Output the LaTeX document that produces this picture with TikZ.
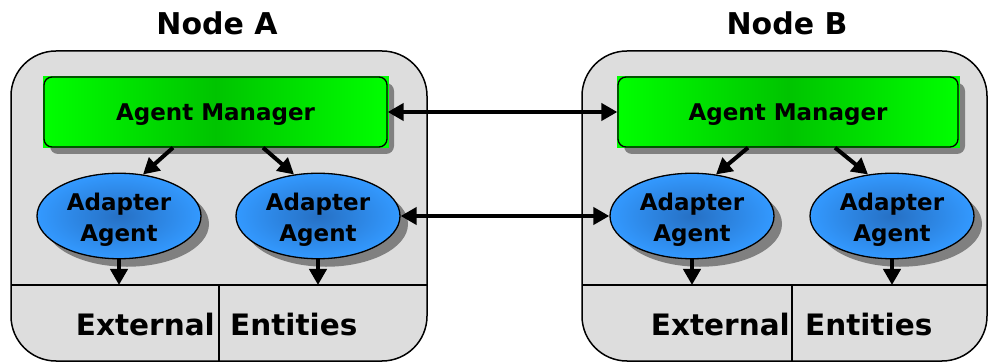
\documentclass[tikz,border=0pt]{standalone}
\usepackage{fontspec}
\setmainfont{DejaVu Sans}
\usetikzlibrary{shapes.geometric,arrows.meta,shadows,calc}
\definecolor{boxgray}{RGB}{221,221,221}
\definecolor{shadowgray}{RGB}{128,128,128}
\definecolor{amgreen}{RGB}{0,255,0}
\definecolor{amdark}{RGB}{0,196,0}
\definecolor{aablue}{RGB}{51,153,255}
\definecolor{aadark}{RGB}{38,112,196}
\begin{document}
\begin{tikzpicture}[x=1pt,y=-1pt,
  container/.style={draw=black, line width=1.5pt, fill=boxgray, rounded corners=45pt},
  divider/.style={draw=black, line width=1.2pt},
  amshadow/.style={fill=shadowgray, rounded corners=8pt},
  amback/.style={fill=amgreen},
  agentmgr/.style={rectangle, rounded corners=8pt, draw=black, line width=1.3pt,
    left color=amgreen, right color=amgreen, middle color=amdark,
    minimum width=343pt, minimum height=70pt, inner sep=0pt,
    text height=16.8pt, text depth=0pt,
    font=\bfseries\fontsize{23}{27}\selectfont},
  adapter/.style={ellipse, draw=black, line width=1.3pt,
    inner color=aadark, outer color=aablue,
    minimum width=164pt, minimum height=85pt, inner sep=0pt, align=center,
    font=\bfseries\fontsize{23}{31}\selectfont,
    drop shadow={shadow xshift=8pt, shadow yshift=-8pt, fill=shadowgray, opacity=1}},
  title/.style={font=\bfseries\fontsize{30}{36}\selectfont, inner sep=0pt},
  extlabel/.style={font=\bfseries\fontsize{29.5}{34}\selectfont, inner sep=0pt},
  arr/.style={line width=4pt, -{Triangle[length=16pt,width=17pt]}},
  biarr/.style={line width=4pt, {Triangle[length=16pt,width=17pt]}-{Triangle[length=16pt,width=17pt]}}
]
\clip (0,0) rectangle (988,363);
\fill[white] (0,0) rectangle (988,363);

% titles
\node[title, anchor=base] (titleA) at (217,35) {Node A};
\node[title, anchor=base] (titleB) at (787,35) {Node B};

% containers
\path[container] (11,51) rectangle (427,361);
\path[container] (582,51) rectangle (987,361);
\draw[divider] (11,285) -- (427,285);
\draw[divider] (219,285) -- (219,361);
\draw[divider] (582,285) -- (987,285);
\draw[divider] (792,285) -- (792,361);
\coordinate (lineA) at (0,285);
\coordinate (lineB) at (0,285);

% agent managers
\fill[amshadow] (50,83) rectangle (394,154);
\fill[amback] (43,76) rectangle (389,148);
\node[agentmgr] (amA) at (215.5,112) {Agent Manager};
\fill[amshadow] (624,83) rectangle (965,154);
\fill[amback] (617,76) rectangle (960,148);
\node[agentmgr, minimum width=340pt] (amB) at (788,112) {Agent Manager};

% adapter agents
\node[adapter] (aa1) at (119,216) {\rule{0pt}{24.5pt}Adapter\\Agent};
\node[adapter] (aa2) at (318,216) {\rule{0pt}{24.5pt}Adapter\\Agent};
\node[adapter] (ab1) at (692,216) {\rule{0pt}{24.5pt}Adapter\\Agent};
\node[adapter] (ab2) at (892,216) {\rule{0pt}{24.5pt}Adapter\\Agent};

% external entities
\node[extlabel, anchor=base east] (extA) at (215,335) {External};
\node[extlabel, anchor=base west] (entA) at (230,335) {Entities};
\node[extlabel, anchor=base east] (extB) at (790,335) {External};
\node[extlabel, anchor=base west] (entB) at (805,335) {Entities};

% internal arrows
\draw[arr] ($(amA.south)+(-42.5,0)$) -- (aa1.60);
\draw[arr] ($(amA.south)+(47.5,0)$) -- (aa2.120);
\draw[arr] ($(amB.south)+(-40,0)$) -- (ab1.60);
\draw[arr] ($(amB.south)+(47,0)$) -- (ab2.120);
\draw[arr] (aa1.south) -- (aa1.south |- lineA);
\draw[arr] (aa2.south) -- (aa2.south |- lineA);
\draw[arr] (ab1.south) -- (ab1.south |- lineB);
\draw[arr] (ab2.south) -- (ab2.south |- lineB);

% inter-node arrows
\draw[biarr] (amA.east) -- (amB.west);
\draw[biarr] (aa2.east) -- (ab1.west);
\end{tikzpicture}
\end{document}
